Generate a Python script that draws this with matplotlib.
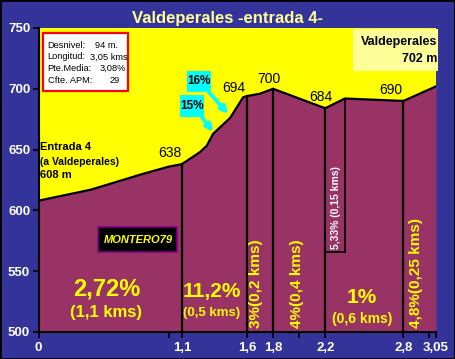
import matplotlib
matplotlib.use("Agg")
import matplotlib.pyplot as plt
from matplotlib.patches import Rectangle, FancyArrowPatch

plt.rcParams['font.family'] = ['Liberation Sans', 'DejaVu Sans']

# ---- data ----
dist = [0, 0.4, 0.8, 1.0, 1.1, 1.24, 1.29, 1.34, 1.47, 1.57, 1.6, 1.7, 1.8, 2.2, 2.35, 2.8, 3.05]
elev = [608, 617, 630, 636, 638, 648, 653, 663, 676, 693, 694, 696, 700, 684, 692, 690, 702]

split_x = [1.1, 1.6, 1.8, 2.2, 2.8]
split_y = [638, 694, 700, 684, 690]

xtick_vals = [0, 1.1, 1.6, 1.8, 2.2, 2.8, 3.05]
xtick_labels = ['0', '1,1', '1,6', '1,8', '2,2', '2,8', '3,05']
yticks = [500, 550, 600, 650, 700, 750]

peak_labels = ['638', '694', '700', '684', '690']
peak_pos = [(1.01, 647), (1.50, 701), (1.77, 708), (2.17, 693), (2.70, 699)]

seg_h = [('2,72%', '(1,1 kms)', 0.52, 535, 516, 17, 12),
         ('11,2%', '(0,5 kms)', 1.33, 533, 516, 15, 9.5),
         ('1%', '(0,6 kms)', 2.48, 528, 511, 15, 10)]
seg_v = [('3%(0,2 kms)', 1.67), ('4%(0,4 kms)', 1.98), ('4,8%(0,25 kms)', 2.90)]

W, H = 455, 359
BLUE = '#333399'
PLUM = '#993366'
YEL = '#FFFF00'

fig = plt.figure(figsize=(W / 100, H / 100), dpi=100, facecolor=BLUE)
fig.patches.append(Rectangle((0, 0), 1, 1, transform=fig.transFigure,
                             fill=False, edgecolor='black', linewidth=2))

def fp(x, y):
    return (x / W, 1 - y / H)

L, R, T, B = 38.5, 436, 28, 332
ax = fig.add_axes([L / W, 1 - B / H, (R - L) / W, (B - T) / H])
ax.set_facecolor(YEL)
ax.set_xlim(0, 3.05)
ax.set_ylim(500, 750)

ax.fill_between(dist, elev, 500, color=PLUM, zorder=2, linewidth=0)
ax.plot(dist, elev, color='black', lw=1.6, zorder=4, solid_joinstyle='miter')
for x, y in zip(split_x, split_y):
    ax.plot([x, x], [500, y], color='black', lw=1.6, zorder=3, clip_on=False)

# small box for 5,33% section
bx0, bx1, by = 2.2, 2.35, 566
ax.plot([bx1, bx1], [by, 692], color='black', lw=1.3, zorder=3)
ax.plot([bx0, bx1], [by, by], color='black', lw=1.3, zorder=3)
ax.text((bx0 + bx1) / 2 + 0.005, by + 2, '5,33% (0,15 kms)', rotation=90, ha='center', va='bottom',
        color='white', fontsize=7.5, fontweight='bold', zorder=5)

for s in ['top', 'right']:
    ax.spines[s].set_visible(False)
for s in ['left', 'bottom']:
    ax.spines[s].set_color('black')
    ax.spines[s].set_linewidth(1.5)
    ax.spines[s].set_zorder(6)

ax.set_yticks(yticks)
ax.set_yticklabels([str(v) for v in yticks])
ax.set_xticks(xtick_vals)
ax.set_xticklabels(xtick_labels)
ax.set_xticks([1, 2, 3], minor=True)
ax.tick_params(axis='both', which='both', direction='out', length=4, width=1.2, color='black',
               labelcolor='white', labelsize=9.5, pad=2)
ax.tick_params(axis='x', pad=3)
for t in ax.get_xticklabels() + ax.get_yticklabels():
    t.set_fontweight('bold')

for lab, (x, y) in zip(peak_labels, peak_pos):
    ax.text(x, y, lab, ha='center', va='center', fontsize=10, color='black', zorder=5)

for big, small, x, y1, y2, fs1, fs2 in seg_h:
    ax.text(x, y1, big, ha='center', va='center', fontsize=fs1, fontweight='bold', color=YEL, zorder=5)
    ax.text(x, y2, small, ha='center', va='center', fontsize=fs2, fontweight='bold', color=YEL, zorder=5)
for lab, x in seg_v:
    ax.text(x, 503, lab, rotation=90, ha='center', va='bottom', fontsize=11, fontweight='bold',
            color=YEL, zorder=5)

# start labels
ax.text(0.01, 652, 'Entrada 4', ha='left', va='center', fontsize=8, fontweight='bold', color='black', zorder=5)
ax.text(0.01, 639.5, '(a Valdeperales)', ha='left', va='center', fontsize=7.5, fontweight='bold', color='black', zorder=5)
ax.text(0.01, 629, '608 m', ha='left', va='center', fontsize=8, fontweight='bold', color='black', zorder=5)

# title
fig.text(*fp(227, 19), 'Valdeperales -entrada 4-', ha='center', va='center', fontsize=12,
         fontweight='bold', color='#FFFF99')

# info box
x0, y0, x1, y1 = 43.3, 33.3, 128.3, 90.7
fig.patches.append(Rectangle(fp(x0, y1), (x1 - x0) / W, (y1 - y0) / H, transform=fig.transFigure,
                             facecolor='white', edgecolor='#FF0000', linewidth=1.6, zorder=10))
info_lab = ['Desnivel:', 'Longitud:', 'Pte.Media:', 'Cfte. APM:']
info_val = ['94 m.', '3,05 kms', '3,08%', '29']
val_x = [95, 90, 100, 110]
for i, (a, b) in enumerate(zip(info_lab, info_val)):
    yy = 45 + i * 11.9
    fig.text(*fp(47.5, yy), a, ha='left', va='center', fontsize=6.7, color='black', zorder=11)
    fig.text(*fp(val_x[i], yy), b, ha='left', va='center', fontsize=6.7, color='black', zorder=11)

# end box
x0, y0, x1, y1 = 353.3, 29.3, 438, 70.7
fig.patches.append(Rectangle(fp(x0, y1), (x1 - x0) / W, (y1 - y0) / H, transform=fig.transFigure,
                             facecolor='#FFFF99', edgecolor='none', zorder=10))
fig.text(*fp(437, 42), 'Valdeperales', ha='right', va='center', fontsize=9, fontweight='bold',
         color='black', zorder=11)
fig.text(*fp(437, 58.5), '702 m', ha='right', va='center', fontsize=9, fontweight='bold',
         color='black', zorder=11)

# MONTERO79 box
x0, y0, x1, y1 = 98.3, 227.3, 177.3, 252
fig.patches.append(Rectangle(fp(x0, y1), (x1 - x0) / W, (y1 - y0) / H, transform=fig.transFigure,
                             facecolor='black', edgecolor='#800080', linewidth=1.2, zorder=10))
fig.text(*fp(138, 240), 'MONTERO79', ha='center', va='center', fontsize=8, fontweight='bold',
         fontstyle='italic', color=YEL, zorder=11)

# cyan callouts
CY = '#00FFFF'
for (bx0_, by0_, bx1_, by1_), lab, start, tip in [
        ((187, 71, 210.7, 91.7), '16%', (207, 90), (230, 116)),
        ((180, 95, 204, 116.7), '15%', (200, 115), (215, 134))]:
    fig.patches.append(Rectangle(fp(bx0_, by1_), (bx1_ - bx0_) / W, (by1_ - by0_) / H,
                                 transform=fig.transFigure, facecolor=CY, edgecolor='none', zorder=10))
    fig.text(*fp((bx0_ + bx1_) / 2, (by0_ + by1_) / 2), lab, ha='center', va='center', fontsize=8.5,
             fontweight='bold', color='black', zorder=11)
    arr = FancyArrowPatch(fp(*start), fp(*tip), transform=fig.transFigure, arrowstyle='-|>',
                          mutation_scale=10, color=CY, linewidth=2.8, zorder=9)
    fig.patches.append(arr)

fig.savefig('out.png', dpi=100, facecolor=BLUE)
